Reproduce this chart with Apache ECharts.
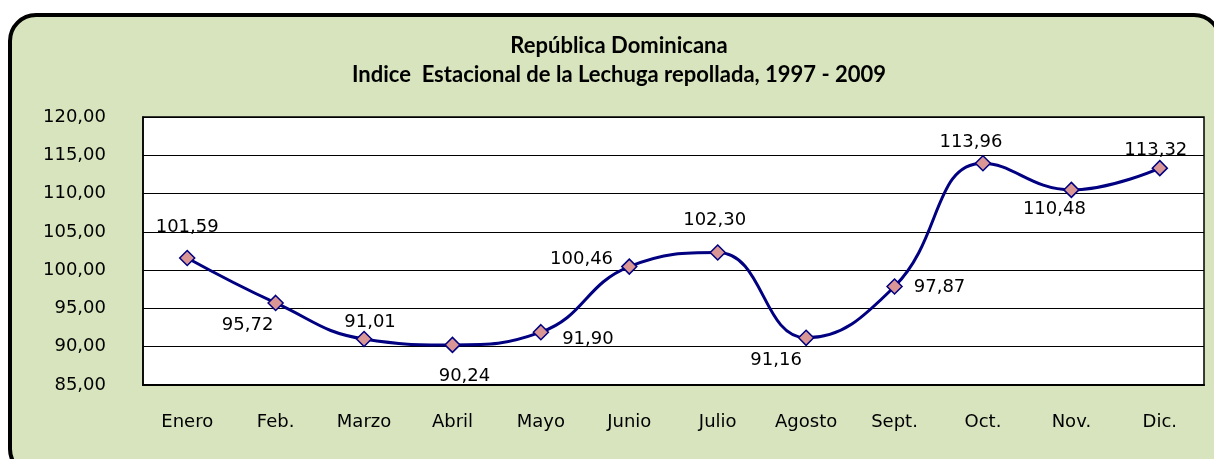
<!DOCTYPE html>
<html>
<head>
<meta charset="utf-8">
<script src="https://cdn.jsdelivr.net/npm/echarts@6/dist/echarts.min.js"></script>
<style>
  html, body { margin: 0; padding: 0; background: #fff; }
  #main { width: 1214px; height: 459px; }
</style>
</head>
<body>
<div id="main"></div>
<script>
// datos: índice estacional por mes
var meses = ['Enero', 'Feb.', 'Marzo', 'Abril', 'Mayo', 'Junio', 'Julio', 'Agosto', 'Sept.', 'Oct.', 'Nov.', 'Dic.'];
var indice = [101.59, 95.72, 91.01, 90.24, 91.90, 100.46, 102.30, 91.16, 97.87, 113.96, 110.48, 113.32];
var yTicks = [85, 90, 95, 100, 105, 110, 115, 120];

// colocación de las etiquetas (como en la hoja original)
var etiquetas = [
  {position: 'top', offset: [0, -5]},
  {position: 'bottom', offset: [-28, -3]},
  {position: 'top', offset: [6, 9]},
  {position: 'bottom', offset: [12, 6]},
  {position: 'right', offset: [5, 7]},
  {position: 'left', offset: [0, -7]},
  {position: 'top', offset: [-3, -7]},
  {position: 'bottom', offset: [-30, -3]},
  {position: 'right', offset: [3, 1]},
  {position: 'top', offset: [-12, 4]},
  {position: 'bottom', offset: [-17, -6]},
  {position: 'top', offset: [-4, 7]}
];

function coma(v) {
  return v.toFixed(2).replace('.', ',');
}

var puntos = indice.map(function (v, i) {
  return {
    value: v,
    label: etiquetas[i]
  };
});

var myChart = echarts.init(document.getElementById('main'));
var option = {
  backgroundColor: '#ffffff',
  animation: false,
  graphic: [{
    type: 'rect',
    z: -100,
    shape: {x: 10, y: 15, width: 1210, height: 460, r: 26},
    style: {fill: '#d7e4bd', stroke: '#000', lineWidth: 4}
  }],
  title: {
    text: 'República Dominicana\nIndice  Estacional de la Lechuga repollada, 1997 - 2009',
    left: 614,
    top: 26,
    textAlign: 'center',
    textStyle: {
      fontFamily: 'Lato',
      fontWeight: 'bold',
      fontSize: 22,
      lineHeight: 29,
      color: '#000'
    }
  },
  grid: {
    left: 143, top: 117, right: 10, bottom: 74,
    show: true,
    backgroundColor: '#ffffff',
    borderColor: '#000',
    borderWidth: 1.5
  },
  xAxis: {
    type: 'category',
    data: meses,
    boundaryGap: true,
    axisLine: {lineStyle: {color: '#000', width: 2}},
    axisTick: {show: false},
    axisLabel: {
      margin: 28,
      color: '#000',
      fontFamily: 'DejaVu Sans',
      fontSize: 18
    }
  },
  yAxis: {
    type: 'value',
    min: yTicks[0],
    max: yTicks[yTicks.length - 1],
    interval: 5,
    axisLine: {show: true, lineStyle: {color: '#000', width: 1.5}},
    axisTick: {show: false},
    splitLine: {lineStyle: {color: '#000', width: 1.2}},
    axisLabel: {
      margin: 37,
      color: '#000',
      fontFamily: 'DejaVu Sans',
      fontSize: 18,
      formatter: function (v) { return coma(v); }
    }
  },
  series: [{
    type: 'line',
    data: puntos,
    smooth: 0.45,
    symbol: 'diamond',
    symbolSize: 15,
    lineStyle: {color: '#000080', width: 3},
    itemStyle: {color: '#d99694', borderColor: '#000080', borderWidth: 1.5},
    label: {
      show: true,
      color: '#000',
      fontFamily: 'DejaVu Sans',
      fontSize: 18,
      distance: 8,
      formatter: function (p) { return coma(p.value); }
    }
  }]
};
myChart.setOption(option);
</script>
</body>
</html>
